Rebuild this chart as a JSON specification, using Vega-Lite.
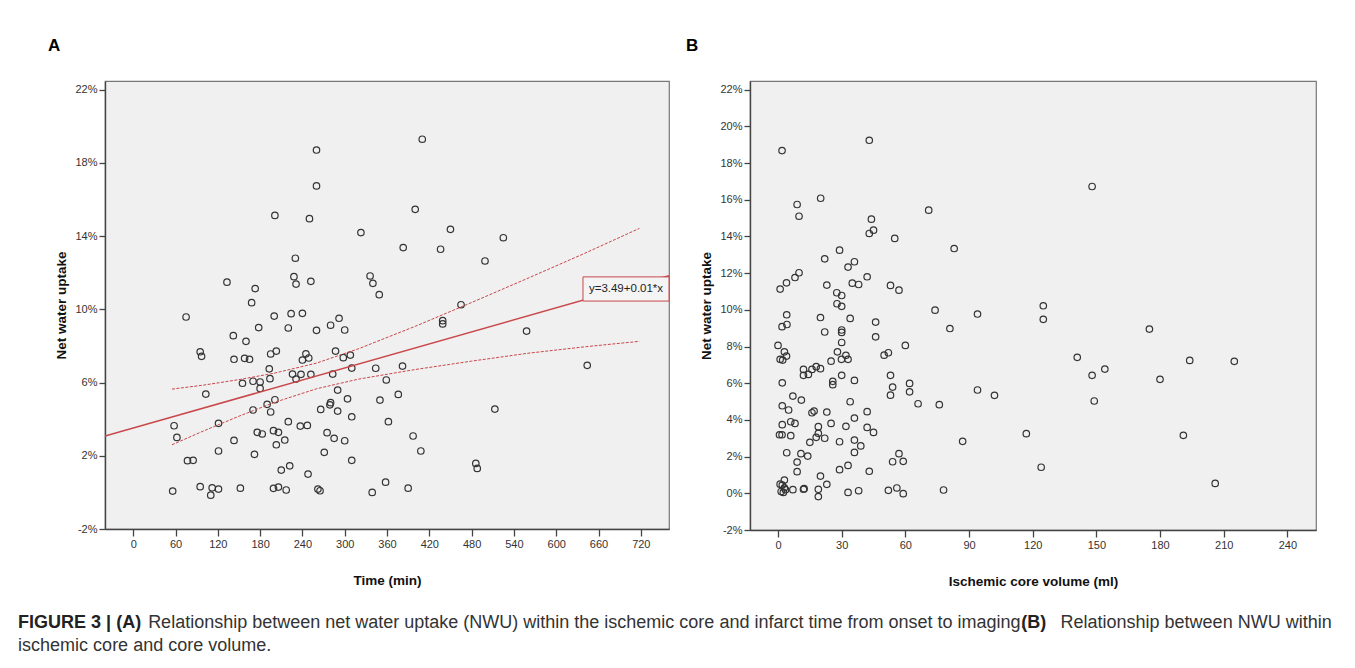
{
  "$schema": "https://vega.github.io/schema/vega-lite/v6.json",
  "background": "white",
  "padding": {"left": 18, "top": 36, "right": 5, "bottom": 5},
  "config": {
    "font": "Liberation Sans",
    "view": {"fill": "#f0f0f0", "stroke": "#777", "strokeWidth": 1.2},
    "axis": {
      "grid": false, "domainColor": "#444", "domainWidth": 1.4,
      "tickColor": "#444", "tickWidth": 1.3, "tickSize": 6, "labelOverlap": false,
      "labelFontSize": 11, "labelColor": "#333", "labelPadding": 2,
      "titleFontSize": 13.5, "titleFontWeight": "bold", "titleColor": "#111"
    },
    "axisX": {"tickSize": 7, "titlePadding": 24},
    "axisY": {"titlePadding": 6},
    "title": {"fontSize": 17, "fontWeight": "bold", "color": "#000"}
  },
  "title": {
    "text": ["\u200b\u00a0\u00a0\u00a0\u00a0\u00a0\u00a0\u00a0\u00a0\u00a0\u00a0\u00a0\u00a0\u00a0\u00a0\u00a0\u00a0\u00a0\u00a0\u00a0\u00a0\u00a0\u00a0\u00a0\u00a0\u00a0 Relationship between net water uptake (NWU) within the ischemic core and infarct time from onset to imaging. \u00a0\u00a0\u00a0\u00a0\u00a0 Relationship between NWU within", "ischemic core and core volume."],
    "orient": "bottom", "anchor": "start", "frame": "bounds",
    "fontSize": 18, "fontWeight": "normal", "color": "#333",
    "lineHeight": 23, "baseline": "top", "offset": -18, "dx": 0
  },
  "datasets": {
    "ptsA": [
      {"time": 260, "nwu": 18.7}, {"time": 260, "nwu": 16.74}, {"time": 201, "nwu": 15.13}, {"time": 250, "nwu": 14.95},
      {"time": 323, "nwu": 14.19}, {"time": 230, "nwu": 12.79}, {"time": 228, "nwu": 11.78}, {"time": 252, "nwu": 11.53},
      {"time": 133, "nwu": 11.48}, {"time": 336, "nwu": 11.82}, {"time": 410, "nwu": 19.29}, {"time": 400, "nwu": 15.46},
      {"time": 450, "nwu": 14.37}, {"time": 383, "nwu": 13.37}, {"time": 436, "nwu": 13.28}, {"time": 525, "nwu": 13.91},
      {"time": 499, "nwu": 12.64}, {"time": 340, "nwu": 11.42}, {"time": 349, "nwu": 10.8}, {"time": 465, "nwu": 10.25},
      {"time": 439, "nwu": 9.38}, {"time": 439, "nwu": 9.2}, {"time": 558, "nwu": 8.81}, {"time": 344, "nwu": 6.78},
      {"time": 382, "nwu": 6.9}, {"time": 359, "nwu": 6.14}, {"time": 644, "nwu": 6.94}, {"time": 350, "nwu": 5.04},
      {"time": 376, "nwu": 5.35}, {"time": 513, "nwu": 4.55}, {"time": 362, "nwu": 3.86}, {"time": 397, "nwu": 3.08},
      {"time": 408, "nwu": 2.26}, {"time": 486, "nwu": 1.58}, {"time": 488, "nwu": 1.31}, {"time": 358, "nwu": 0.56},
      {"time": 339, "nwu": 0.0}, {"time": 390, "nwu": 0.23}, {"time": 173, "nwu": 11.13}, {"time": 231, "nwu": 11.38},
      {"time": 168, "nwu": 10.36}, {"time": 75, "nwu": 9.58}, {"time": 200, "nwu": 9.63}, {"time": 224, "nwu": 9.76},
      {"time": 240, "nwu": 9.78}, {"time": 178, "nwu": 9.0}, {"time": 220, "nwu": 8.98}, {"time": 260, "nwu": 8.85},
      {"time": 280, "nwu": 9.13}, {"time": 292, "nwu": 9.51}, {"time": 300, "nwu": 8.87}, {"time": 142, "nwu": 8.56},
      {"time": 160, "nwu": 8.25}, {"time": 95, "nwu": 7.68}, {"time": 97, "nwu": 7.43}, {"time": 143, "nwu": 7.27},
      {"time": 158, "nwu": 7.32}, {"time": 165, "nwu": 7.27}, {"time": 195, "nwu": 7.56}, {"time": 203, "nwu": 7.72},
      {"time": 245, "nwu": 7.57}, {"time": 240, "nwu": 7.23}, {"time": 249, "nwu": 7.34}, {"time": 287, "nwu": 7.72},
      {"time": 298, "nwu": 7.36}, {"time": 308, "nwu": 7.5}, {"time": 310, "nwu": 6.79}, {"time": 193, "nwu": 6.75},
      {"time": 194, "nwu": 6.21}, {"time": 226, "nwu": 6.46}, {"time": 231, "nwu": 6.19}, {"time": 238, "nwu": 6.45},
      {"time": 252, "nwu": 6.45}, {"time": 283, "nwu": 6.46}, {"time": 155, "nwu": 5.96}, {"time": 170, "nwu": 6.07},
      {"time": 180, "nwu": 6.03}, {"time": 180, "nwu": 5.68}, {"time": 103, "nwu": 5.37}, {"time": 290, "nwu": 5.59},
      {"time": 304, "nwu": 5.11}, {"time": 190, "nwu": 4.81}, {"time": 201, "nwu": 5.06}, {"time": 280, "nwu": 4.9},
      {"time": 279, "nwu": 4.78}, {"time": 170, "nwu": 4.5}, {"time": 195, "nwu": 4.39}, {"time": 266, "nwu": 4.53},
      {"time": 290, "nwu": 4.44}, {"time": 310, "nwu": 4.13}, {"time": 58, "nwu": 3.64}, {"time": 62, "nwu": 3.0},
      {"time": 121, "nwu": 3.77}, {"time": 220, "nwu": 3.86}, {"time": 237, "nwu": 3.62}, {"time": 247, "nwu": 3.66},
      {"time": 143, "nwu": 2.84}, {"time": 176, "nwu": 3.28}, {"time": 183, "nwu": 3.19}, {"time": 199, "nwu": 3.37},
      {"time": 206, "nwu": 3.28}, {"time": 203, "nwu": 2.6}, {"time": 215, "nwu": 2.86}, {"time": 275, "nwu": 3.26},
      {"time": 285, "nwu": 2.95}, {"time": 300, "nwu": 2.82}, {"time": 121, "nwu": 2.26}, {"time": 172, "nwu": 2.08},
      {"time": 271, "nwu": 2.19}, {"time": 77, "nwu": 1.73}, {"time": 85, "nwu": 1.75}, {"time": 310, "nwu": 1.75},
      {"time": 210, "nwu": 1.22}, {"time": 222, "nwu": 1.45}, {"time": 248, "nwu": 1.0}, {"time": 56, "nwu": 0.07},
      {"time": 95, "nwu": 0.31}, {"time": 110, "nwu": -0.15}, {"time": 112, "nwu": 0.25}, {"time": 121, "nwu": 0.18},
      {"time": 152, "nwu": 0.23}, {"time": 199, "nwu": 0.22}, {"time": 206, "nwu": 0.29}, {"time": 217, "nwu": 0.13},
      {"time": 262, "nwu": 0.18}, {"time": 265, "nwu": 0.09}
    ],
    "ciA": [
      {"bound": "upper", "time": 55, "nwu": 5.64}, {"bound": "upper", "time": 100, "nwu": 5.86}, {"bound": "upper", "time": 150, "nwu": 6.16},
      {"bound": "upper", "time": 200, "nwu": 6.51}, {"bound": "upper", "time": 260, "nwu": 7.06}, {"bound": "upper", "time": 320, "nwu": 7.85},
      {"bound": "upper", "time": 400, "nwu": 9.07}, {"bound": "upper", "time": 480, "nwu": 10.37}, {"bound": "upper", "time": 560, "nwu": 11.7},
      {"bound": "upper", "time": 640, "nwu": 13.05}, {"bound": "upper", "time": 718, "nwu": 14.42},
      {"bound": "lower", "time": 55, "nwu": 2.6}, {"bound": "lower", "time": 100, "nwu": 3.36}, {"bound": "lower", "time": 150, "nwu": 4.16},
      {"bound": "lower", "time": 200, "nwu": 4.91}, {"bound": "lower", "time": 260, "nwu": 5.66}, {"bound": "lower", "time": 320, "nwu": 6.19},
      {"bound": "lower", "time": 400, "nwu": 6.71}, {"bound": "lower", "time": 480, "nwu": 7.17}, {"bound": "lower", "time": 560, "nwu": 7.6},
      {"bound": "lower", "time": 640, "nwu": 7.95}, {"bound": "lower", "time": 718, "nwu": 8.25}
    ],
    "fitA": [{"time": -40, "nwu": 3.08}, {"time": 760, "nwu": 11.83}],
    "ptsB": [
      {"vol": 1.9, "nwu": 18.68}, {"vol": 43, "nwu": 19.24}, {"vol": 20.1, "nwu": 16.08}, {"vol": 9, "nwu": 15.74},
      {"vol": 9.9, "nwu": 15.1}, {"vol": 44, "nwu": 14.94}, {"vol": 43, "nwu": 14.16}, {"vol": 45, "nwu": 14.34},
      {"vol": 55, "nwu": 13.89}, {"vol": 71, "nwu": 15.43}, {"vol": 83, "nwu": 13.34}, {"vol": 29, "nwu": 13.25},
      {"vol": 22, "nwu": 12.78}, {"vol": 33, "nwu": 12.33}, {"vol": 36, "nwu": 12.62}, {"vol": 9.9, "nwu": 12.02},
      {"vol": 8, "nwu": 11.76}, {"vol": 42, "nwu": 11.8}, {"vol": 148, "nwu": 16.72}, {"vol": 4, "nwu": 11.47},
      {"vol": 1, "nwu": 11.13}, {"vol": 23, "nwu": 11.35}, {"vol": 27.7, "nwu": 10.93}, {"vol": 30, "nwu": 10.78},
      {"vol": 27.8, "nwu": 10.33}, {"vol": 30, "nwu": 10.19}, {"vol": 35, "nwu": 11.45}, {"vol": 38, "nwu": 11.38},
      {"vol": 53, "nwu": 11.33}, {"vol": 57, "nwu": 11.07}, {"vol": 74, "nwu": 9.98}, {"vol": 94, "nwu": 9.77},
      {"vol": 81, "nwu": 8.98}, {"vol": 4.1, "nwu": 9.73}, {"vol": 1.9, "nwu": 9.08}, {"vol": 4.2, "nwu": 9.2},
      {"vol": 20, "nwu": 9.58}, {"vol": 22, "nwu": 8.79}, {"vol": 30, "nwu": 8.9}, {"vol": 30, "nwu": 8.77},
      {"vol": 34, "nwu": 9.53}, {"vol": 46, "nwu": 9.33}, {"vol": 46, "nwu": 8.53}, {"vol": 30, "nwu": 8.22},
      {"vol": 0, "nwu": 8.06}, {"vol": 60, "nwu": 8.06}, {"vol": 3, "nwu": 7.71}, {"vol": 4, "nwu": 7.48},
      {"vol": 1, "nwu": 7.3}, {"vol": 2.2, "nwu": 7.26}, {"vol": 28, "nwu": 7.71}, {"vol": 32, "nwu": 7.52},
      {"vol": 29.9, "nwu": 7.3}, {"vol": 33, "nwu": 7.3}, {"vol": 25, "nwu": 7.2}, {"vol": 50, "nwu": 7.53},
      {"vol": 52, "nwu": 7.66}, {"vol": 12, "nwu": 6.75}, {"vol": 12, "nwu": 6.43}, {"vol": 14.3, "nwu": 6.48},
      {"vol": 16, "nwu": 6.75}, {"vol": 18, "nwu": 6.9}, {"vol": 20, "nwu": 6.79}, {"vol": 30, "nwu": 6.43},
      {"vol": 36, "nwu": 6.15}, {"vol": 25.8, "nwu": 6.1}, {"vol": 25.8, "nwu": 5.92}, {"vol": 2, "nwu": 6.02},
      {"vol": 53, "nwu": 6.43}, {"vol": 54, "nwu": 5.79}, {"vol": 53, "nwu": 5.35}, {"vol": 62, "nwu": 5.99},
      {"vol": 62, "nwu": 5.53}, {"vol": 66, "nwu": 4.88}, {"vol": 76, "nwu": 4.83}, {"vol": 94, "nwu": 5.63},
      {"vol": 102, "nwu": 5.34}, {"vol": 7, "nwu": 5.3}, {"vol": 11, "nwu": 5.08}, {"vol": 2, "nwu": 4.77},
      {"vol": 5, "nwu": 4.54}, {"vol": 34, "nwu": 4.99}, {"vol": 16, "nwu": 4.39}, {"vol": 17, "nwu": 4.48},
      {"vol": 23, "nwu": 4.43}, {"vol": 42, "nwu": 4.45}, {"vol": 2, "nwu": 3.74}, {"vol": 6, "nwu": 3.9},
      {"vol": 8, "nwu": 3.81}, {"vol": 25, "nwu": 3.81}, {"vol": 19, "nwu": 3.63}, {"vol": 32, "nwu": 3.65},
      {"vol": 36, "nwu": 4.1}, {"vol": 42, "nwu": 3.59}, {"vol": 45, "nwu": 3.32}, {"vol": 0.7, "nwu": 3.19},
      {"vol": 1.9, "nwu": 3.19}, {"vol": 6, "nwu": 3.14}, {"vol": 19, "nwu": 3.27}, {"vol": 18, "nwu": 3.05},
      {"vol": 22, "nwu": 3.0}, {"vol": 15, "nwu": 2.78}, {"vol": 29, "nwu": 2.81}, {"vol": 36, "nwu": 2.9},
      {"vol": 39, "nwu": 2.58}, {"vol": 87, "nwu": 2.83}, {"vol": 4.1, "nwu": 2.21}, {"vol": 10.8, "nwu": 2.16},
      {"vol": 14, "nwu": 2.03}, {"vol": 36, "nwu": 2.23}, {"vol": 57, "nwu": 2.16}, {"vol": 54, "nwu": 1.72},
      {"vol": 59, "nwu": 1.74}, {"vol": 9, "nwu": 1.7}, {"vol": 9, "nwu": 1.18}, {"vol": 33, "nwu": 1.52},
      {"vol": 29, "nwu": 1.29}, {"vol": 43, "nwu": 1.2}, {"vol": 20, "nwu": 0.94}, {"vol": 23, "nwu": 0.49},
      {"vol": 3, "nwu": 0.72}, {"vol": 1, "nwu": 0.5}, {"vol": 2, "nwu": 0.45}, {"vol": 3, "nwu": 0.3},
      {"vol": 1.5, "nwu": 0.1}, {"vol": 2.5, "nwu": 0.05}, {"vol": 3.5, "nwu": 0.2}, {"vol": 7, "nwu": 0.2},
      {"vol": 12, "nwu": 0.22}, {"vol": 12.3, "nwu": 0.25}, {"vol": 19, "nwu": 0.22}, {"vol": 19, "nwu": -0.18},
      {"vol": 33, "nwu": 0.05}, {"vol": 38, "nwu": 0.14}, {"vol": 52, "nwu": 0.16}, {"vol": 56, "nwu": 0.29},
      {"vol": 59, "nwu": -0.02}, {"vol": 78, "nwu": 0.18}, {"vol": 125, "nwu": 10.22}, {"vol": 125, "nwu": 9.48},
      {"vol": 175, "nwu": 8.95}, {"vol": 141, "nwu": 7.41}, {"vol": 148, "nwu": 6.43}, {"vol": 154, "nwu": 6.77},
      {"vol": 149, "nwu": 5.03}, {"vol": 180, "nwu": 6.21}, {"vol": 194, "nwu": 7.24}, {"vol": 215, "nwu": 7.19},
      {"vol": 117, "nwu": 3.25}, {"vol": 191, "nwu": 3.16}, {"vol": 124, "nwu": 1.42}, {"vol": 206, "nwu": 0.54}
    ]
  },
  "vconcat": [
    {
      "title": {
        "text": "FIGURE 3 | (A)\u00a0\u00a0\u00a0\u00a0\u00a0\u00a0\u00a0\u00a0\u00a0\u00a0\u00a0\u00a0\u00a0\u00a0\u00a0\u00a0\u00a0\u00a0\u00a0\u00a0\u00a0\u00a0\u00a0\u00a0\u00a0\u00a0\u00a0\u00a0\u00a0\u00a0\u00a0\u00a0\u00a0\u00a0\u00a0\u00a0\u00a0\u00a0\u00a0\u00a0\u00a0\u00a0\u00a0\u00a0\u00a0\u00a0\u00a0\u00a0\u00a0\u00a0\u00a0\u00a0\u00a0\u00a0\u00a0\u00a0\u00a0\u00a0\u00a0\u00a0\u00a0\u00a0\u00a0\u00a0\u00a0\u00a0\u00a0\u00a0\u00a0\u00a0\u00a0\u00a0\u00a0\u00a0\u00a0\u00a0\u00a0\u00a0\u00a0\u00a0\u00a0\u00a0\u00a0\u00a0\u00a0\u00a0\u00a0\u00a0\u00a0\u00a0\u00a0\u00a0\u00a0\u00a0\u00a0\u00a0\u00a0\u00a0\u00a0\u00a0\u00a0\u00a0\u00a0\u00a0\u00a0\u00a0\u00a0\u00a0\u00a0\u00a0\u00a0\u00a0\u00a0\u00a0\u00a0\u00a0\u00a0\u00a0\u00a0\u00a0\u00a0\u00a0\u00a0\u00a0\u00a0\u00a0\u00a0\u00a0\u00a0\u00a0\u00a0\u00a0\u00a0\u00a0\u00a0\u00a0\u00a0\u00a0\u00a0\u00a0\u00a0\u00a0\u00a0\u00a0\u00a0\u00a0\u00a0\u00a0\u00a0\u00a0\u00a0\u00a0\u00a0\u00a0\u00a0\u00a0\u00a0\u00a0\u00a0\u00a0\u00a0\u00a0\u00a0\u00a0\u00a0\u00a0\u00a0\u00a0\u00a0\u00a0\u00a0\u00a0\u00a0\u00a0\u00a0\u00a0(B)",
        "orient": "bottom", "anchor": "start", "frame": "bounds",
        "fontSize": 18, "fontWeight": "bold", "color": "#222",
        "baseline": "top", "offset": 26, "dx": -29.3
      },
      "spacing": 14,
      "hconcat": [
        {
          "width": 564, "height": 448,
          "title": {"text": "A", "anchor": "start", "frame": "group", "dx": -57, "baseline": "alphabetic", "offset": 13},
          "layer": [
            {
              "data": {"name": "ptsA"},
              "mark": {"type": "point", "shape": "circle", "filled": false, "stroke": "#333", "strokeWidth": 1.2, "size": 42, "opacity": 1},
              "encoding": {
                "x": {"field": "time", "type": "quantitative", "scale": {"domain": [-40, 760], "nice": false, "zero": false},
                      "axis": {"values": [0, 60, 120, 180, 240, 300, 360, 420, 480, 540, 600, 660, 720], "title": "Time (min)"}},
                "y": {"field": "nwu", "type": "quantitative", "scale": {"domain": [-2, 22.47], "nice": false, "zero": false},
                      "axis": {"values": [-2, 0, 2, 4, 6, 8, 10, 12, 14, 16, 18, 20, 22], "labelExpr": "datum.value + '%'", "title": "Net water uptake"}}
              }
            },
            {
              "data": {"name": "ciA"},
              "mark": {"type": "line", "color": "#c9474a", "strokeWidth": 1, "strokeDash": [3, 1.5], "clip": true},
              "encoding": {
                "x": {"field": "time", "type": "quantitative"},
                "y": {"field": "nwu", "type": "quantitative"},
                "detail": {"field": "bound"}
              }
            },
            {
              "data": {"name": "fitA"},
              "mark": {"type": "line", "color": "#c9474a", "strokeWidth": 1.5, "clip": true},
              "encoding": {
                "x": {"field": "time", "type": "quantitative"},
                "y": {"field": "nwu", "type": "quantitative"}
              }
            },
            {
              "data": {"values": [{}]},
              "mark": {"type": "rect", "fill": "#f4f4f4", "stroke": "#c9474a", "strokeWidth": 1},
              "encoding": {"x": {"datum": 638}, "x2": {"datum": 760}, "y": {"datum": 11.77}, "y2": {"datum": 10.45}}
            },
            {
              "data": {"values": [{}]},
              "mark": {"type": "text", "fontSize": 11.5, "color": "#222"},
              "encoding": {"x": {"datum": 699}, "y": {"datum": 11.11}, "text": {"value": "y=3.49+0.01*x"}}
            }
          ]
        },
        {
          "width": 566, "height": 449,
          "title": {"text": "B", "anchor": "start", "frame": "group", "dx": -64, "baseline": "alphabetic", "offset": 13},
          "data": {"name": "ptsB"},
          "mark": {"type": "point", "shape": "circle", "filled": false, "stroke": "#333", "strokeWidth": 1.2, "size": 42, "opacity": 1},
          "encoding": {
            "x": {"field": "vol", "type": "quantitative", "scale": {"domain": [-13.2, 253.5], "nice": false, "zero": false},
                  "axis": {"values": [0, 30, 60, 90, 120, 150, 180, 210, 240], "title": "Ischemic core volume (ml)"}},
            "y": {"field": "nwu", "type": "quantitative", "scale": {"domain": [-2, 22.47], "nice": false, "zero": false},
                  "axis": {"values": [-2, 0, 2, 4, 6, 8, 10, 12, 14, 16, 18, 20, 22], "labelExpr": "datum.value + '%'", "title": "Net water uptake"}}
          }
        }
      ]
    }
  ]
}
